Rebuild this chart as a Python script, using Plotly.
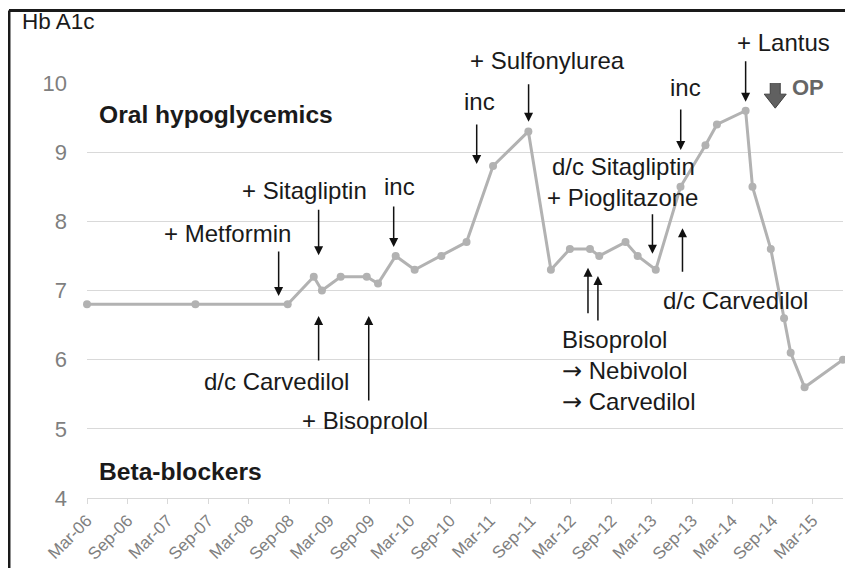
import plotly.graph_objects as go

# ---- data ----
dates = ["2006-03-01", "2007-07-05", "2008-08-26", "2008-12-22", "2009-01-28",
         "2009-04-23", "2009-08-19", "2009-10-09", "2009-12-28", "2010-03-24",
         "2010-07-23", "2010-11-14", "2011-03-14", "2011-08-21", "2011-12-01",
         "2012-02-25", "2012-05-26", "2012-07-07", "2012-11-03", "2012-12-28",
         "2013-03-20", "2013-07-10", "2013-10-31", "2013-12-22", "2014-05-01",
         "2014-06-01", "2014-08-23", "2014-10-22", "2014-11-21", "2015-01-23",
         "2015-07-16"]
hba1c = [6.8, 6.8, 6.8, 7.2, 7.0, 7.2, 7.2, 7.1, 7.5, 7.3,
         7.5, 7.7, 8.8, 9.3, 7.3, 7.6, 7.6, 7.5, 7.7, 7.5,
         7.3, 8.5, 9.1, 9.4, 9.6, 8.5, 7.6, 6.6, 6.1, 5.6,
         6.0]

tick_dates = ["2006-03-01", "2006-09-01", "2007-03-01", "2007-09-01", "2008-03-01",
              "2008-09-01", "2009-03-01", "2009-09-01", "2010-03-01", "2010-09-01",
              "2011-03-01", "2011-09-01", "2012-03-01", "2012-09-01", "2013-03-01",
              "2013-09-01", "2014-03-01", "2014-09-01", "2015-03-01"]
tick_labels = ["Mar-06", "Sep-06", "Mar-07", "Sep-07", "Mar-08", "Sep-08", "Mar-09",
               "Sep-09", "Mar-10", "Sep-10", "Mar-11", "Sep-11", "Mar-12", "Sep-12",
               "Mar-13", "Sep-13", "Mar-14", "Sep-14", "Mar-15"]
y_ticks = [4, 5, 6, 7, 8, 9, 10]

# arrows: (head date, head value, tail offset px)
arrow_dates = ["2008-07-16", "2009-01-13", "2009-12-19", "2010-12-30", "2011-08-22",
               "2013-03-05", "2013-07-19", "2013-07-11", "2014-05-01", "2012-05-17",
               "2012-07-01", "2009-01-13", "2009-08-28"]
arrow_vals = [6.92, 7.51, 7.63, 8.83, 9.44, 7.53, 7.90, 9.03, 9.73, 7.33, 7.21, 6.63, 6.63]
arrow_len = [-46, -47, -42, -41, -39, -41, 45, -42, -42, 47, 46, 46, 86]

# labels inside the value range: (text, date, value)
label_texts = ["+ Metformin", "+ Sitagliptin", "inc", "inc",
               "d/c Sitagliptin", "+ Pioglitazone", "inc",
               "d/c Carvedilol", "d/c Carvedilol", "+ Bisoprolol"]
label_dates = ["2007-11-29", "2008-11-11", "2010-01-15", "2011-01-12",
               "2012-10-27", "2012-10-22", "2013-08-02",
               "2014-03-16", "2008-07-06", "2009-08-13"]
label_vals = [7.83, 8.45, 8.50, 9.73, 8.79, 8.35, 9.93, 6.86, 5.68, 5.12]

# labels above the top of the value range (paper fraction of plot height)
top_texts = ["+ Sulfonylurea", "+ Lantus"]
top_dates = ["2011-11-17", "2014-10-20"]
top_pos = [1.055, 1.097]

fig = go.Figure()
fig.add_trace(go.Scatter(
    x=dates, y=hba1c, mode="lines+markers",
    line=dict(color="#b2b2b2", width=3),
    marker=dict(color="#b2b2b2", size=8),
    cliponaxis=False, showlegend=False, hoverinfo="skip"))

FONT = "Liberation Sans, Arial, sans-serif"
ann = []
for d, v, l in zip(arrow_dates, arrow_vals, arrow_len):
    ann.append(dict(x=d, y=v, xref="x", yref="y", text="", showarrow=True,
                    ax=0, ay=l, arrowhead=2, arrowsize=1.2, arrowwidth=1.5,
                    arrowcolor="#111111", standoff=0, startstandoff=0))
for t, d, v in zip(label_texts, label_dates, label_vals):
    ann.append(dict(x=d, y=v, xref="x", yref="y", text=t, showarrow=False,
                    font=dict(family=FONT, size=24, color="#1a1a1a"),
                    xanchor="center", yanchor="middle"))
for t, d, p in zip(top_texts, top_dates, top_pos):
    ann.append(dict(x=d, y=p, xref="x", yref="paper", text=t, showarrow=False,
                    font=dict(family=FONT, size=24, color="#1a1a1a"),
                    xanchor="center", yanchor="middle"))
arrow_glyph = '<span style="font-family:DejaVu Sans">\u2192</span>'
ann.append(dict(x="2012-01-09", y=5.84, xref="x", yref="y",
                text="Bisoprolol<br>" + arrow_glyph + " Nebivolol<br>" + arrow_glyph + " Carvedilol",
                showarrow=False, align="left", xanchor="left", yanchor="middle",
                font=dict(family=FONT, size=24, color="#1a1a1a")))
ann.append(dict(x="2015-02-06", y=9.93, xref="x", yref="y", text="<b>OP</b>",
                showarrow=False, xanchor="center", yanchor="middle",
                font=dict(family=FONT, size=22, color="#666666")))
ann.append(dict(x=0.0132, y=9.54, xref="paper", yref="y", text="<b>Oral hypoglycemics</b>",
                showarrow=False, xanchor="left", yanchor="middle",
                font=dict(family=FONT, size=24.6, color="#1a1a1a")))
ann.append(dict(x=0.0132, y=4.38, xref="paper", yref="y", text="<b>Beta-blockers</b>",
                showarrow=False, xanchor="left", yanchor="middle",
                font=dict(family=FONT, size=24.6, color="#1a1a1a")))
ann.append(dict(x=-0.088, y=1.147, xref="paper", yref="paper", text="Hb A1c",
                showarrow=False, xanchor="left", yanchor="middle",
                font=dict(family=FONT, size=22.5, color="#1a1a1a")))

shapes = [
    # OP block arrow
    dict(type="path", xref="x", yref="y", xsizemode="pixel", ysizemode="pixel",
         xanchor="2014-09-12", yanchor=10.07,
         path="M -5 0 L 5 0 L 5 -16 L 11 -16 L 0 -30 L -11 -16 L -5 -16 Z",
         fillcolor="#606060", line=dict(color="#404040", width=1)),
    # frame
    dict(type="line", xref="paper", yref="paper", x0=-0.1032, x1=1.03, y0=1.1747, y1=1.1747,
         line=dict(color="#1a1a1a", width=3)),
    dict(type="line", xref="paper", yref="paper", x0=-0.1032, x1=-0.1032, y0=1.1747, y1=-0.2,
         line=dict(color="#1a1a1a", width=3)),
]

fig.update_layout(
    width=853, height=568,
    margin=dict(l=79, r=18, t=75, b=78, autoexpand=False),
    paper_bgcolor="white", plot_bgcolor="white",
    annotations=ann, shapes=shapes,
    font=dict(family=FONT),
    xaxis=dict(type="date", range=["2006-03-01", "2015-07-16"], automargin=False,
               tickvals=tick_dates, ticktext=tick_labels, tickangle=-45,
               tickfont=dict(size=17, color="#7f7f7f"),
               showgrid=False, showline=True, linecolor="#d9d9d9", linewidth=1,
               ticks="outside", ticklen=5, tickcolor="#d9d9d9", zeroline=False),
    yaxis=dict(range=[4, 10], tickvals=y_ticks, tickfont=dict(size=22, color="#7f7f7f"),
               automargin=False,
               showgrid=True, gridcolor="#d9d9d9", gridwidth=1, zeroline=False,
               showline=False, ticks="", ticklabelstandoff=19),
)

fig.write_html("out.html")
